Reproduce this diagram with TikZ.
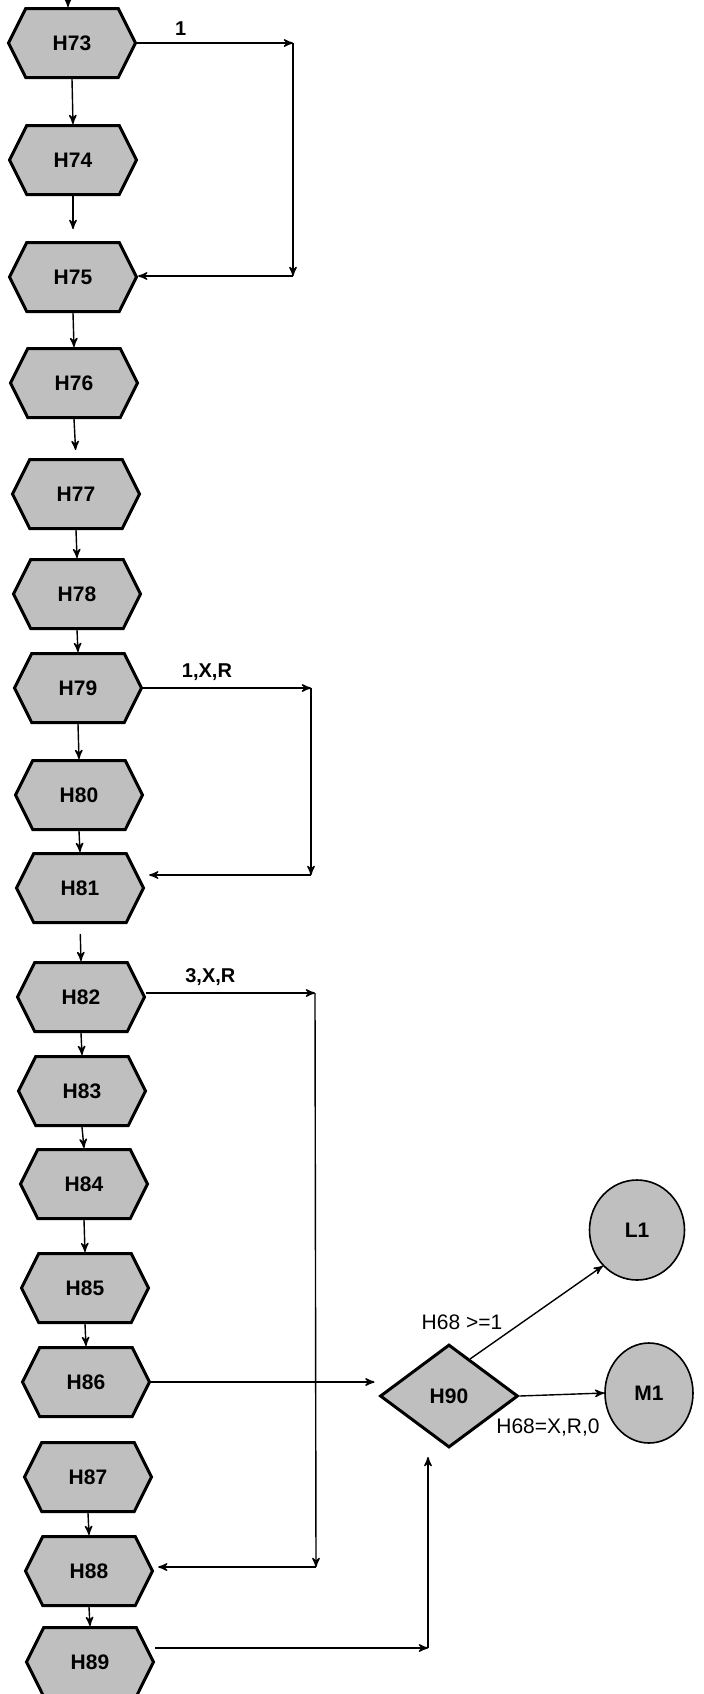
\documentclass[tikz,border=0pt]{standalone}
\usepackage{fontspec}
\setmainfont{Liberation Sans}
\usepackage{tikz}
\usetikzlibrary{arrows,positioning,calc,shapes,shapes.geometric,shapes.symbols}

\begin{document}
\begin{tikzpicture}[x=0.5pt,y=-0.5pt,>=stealth',
	hexbox/.style={signal,signal to=west and east,signal pointer angle=127,draw,line width=1.5pt,fill=gray!50,minimum width=63.5pt,minimum height=34.5pt,inner sep=0pt,font=\fontsize{10.5}{12}\selectfont\bfseries},
	decbox/.style={diamond,draw,line width=1.5pt,fill=gray!50,minimum width=69pt,minimum height=51.5pt,inner sep=0pt,font=\fontsize{10.5}{12}\selectfont\bfseries},
	endbox/.style={ellipse,draw,line width=0.8pt,fill=gray!50,inner sep=0pt,font=\fontsize{10.5}{12}\selectfont\bfseries},
	conn/.style={->,line width=0.7pt},
	cond/.style={font=\fontsize{10.5}{12}\selectfont}]
	\useasboundingbox (0,0) rectangle (703,1694);
	% left column
	\node[hexbox] (h73) at (72,43) {H73};
	\node[hexbox] (h74) at (73,160) {H74};
	\node[hexbox] (h75) at (73,277) {H75};
	\node[hexbox] (h76) at (74,383) {H76};
	\node[hexbox] (h77) at (76,494) {H77};
	\node[hexbox] (h78) at (77,594) {H78};
	\node[hexbox] (h79) at (78,688) {H79};
	\node[hexbox] (h80) at (79,795) {H80};
	\node[hexbox] (h81) at (80,888) {H81};
	\node[hexbox] (h82) at (81,997) {H82};
	\node[hexbox] (h83) at (82,1091) {H83};
	\node[hexbox] (h84) at (84,1184) {H84};
	\node[hexbox] (h85) at (85,1288) {H85};
	\node[hexbox] (h86) at (86,1382) {H86};
	\node[hexbox] (h87) at (88,1477) {H87};
	\node[hexbox] (h88) at (89,1571) {H88};
	\node[hexbox] (h89) at (90,1662) {H89};
	% decision and exits
	\node[decbox] (h90) at (449,1396) {H90};
	\node[endbox,minimum width=47.5pt,minimum height=50pt] (l1) at (637,1230) {L1};
	\node[endbox,minimum width=44pt,minimum height=50pt] (m1) at (649,1393) {M1};
	\node[cond] (ge1) at (462,1322) {H68 >=1};
	\node[cond] (xr0) at (548,1427) {H68=X,R,0};
	% corners of the loops
	\coordinate (in) at (68,0);
	\coordinate (c1) at (293,43);
	\coordinate (c2) at (293,276);
	\coordinate (c3) at (311,688);
	\coordinate (c4) at (311,875);
	\coordinate (c5) at (315,993);
	\coordinate (c6) at (316,1567);
	\coordinate (c8) at (428,1648);

	\draw[conn] (in) -- (in |- h73.north);
	\draw[conn] (h73.south) -- (h74.north);
	\draw[conn,shorten >=6pt] (h74.south) -- (h75.north);
	\draw[conn] (h75.south) -- (h76.north);
	\draw[conn,shorten >=4pt] (h76.south) -- (h77.north);
	\draw[conn] (h77.south) -- (h78.north);
	\draw[conn] (h78.south) -- (h79.north);
	\draw[conn] (h79.south) -- (h80.north);
	\draw[conn] (h80.south) -- (h81.north);
	\draw[conn,shorten <=5pt] (h81.south) -- (h82.north);
	\draw[conn] (h82.south) -- (h83.north);
	\draw[conn] (h83.south) -- (h84.north);
	\draw[conn] (h84.south) -- (h85.north);
	\draw[conn] (h85.south) -- (h86.north);
	\draw[conn] (h87.south) -- (h88.north);
	\draw[conn] (h88.south) -- (h89.north);

	\draw[conn] (h73.east) -- node[above,pos=0.28,font=\bfseries]{1} (c1);
	\draw[conn] (c1) -- (c2);
	\draw[conn] (c2) -- (h75.east |- c2);
	\draw[conn] (h79.east) -- node[above,pos=0.38,font=\bfseries]{1,X,R} (c3);
	\draw[conn] (c3) -- (c4);
	\draw[conn,shorten >=2pt] (c4) -- (h81.east |- c4);
	\draw[conn] (h82.east |- c5) -- node[above,pos=0.38,font=\bfseries]{3,X,R} (c5);
	\draw[conn] (c5) -- (c6);
	\draw[conn,shorten >=2pt] (c6) -- (h88.east |- c6);

	\draw[conn,shorten >=2pt] (h86.east) -- (h86.east -| h90.west);
	\draw[conn] (h89.east |- c8) -- (c8);
	\draw[conn,shorten >=4pt] (c8) -- (c8 |- h90.south);
	\draw[conn] ($(h90.north)!0.3!(h90.east)$) -- (l1.south west);
	\draw[conn] (h90.east) -- (m1.west);
\end{tikzpicture}
\end{document}
